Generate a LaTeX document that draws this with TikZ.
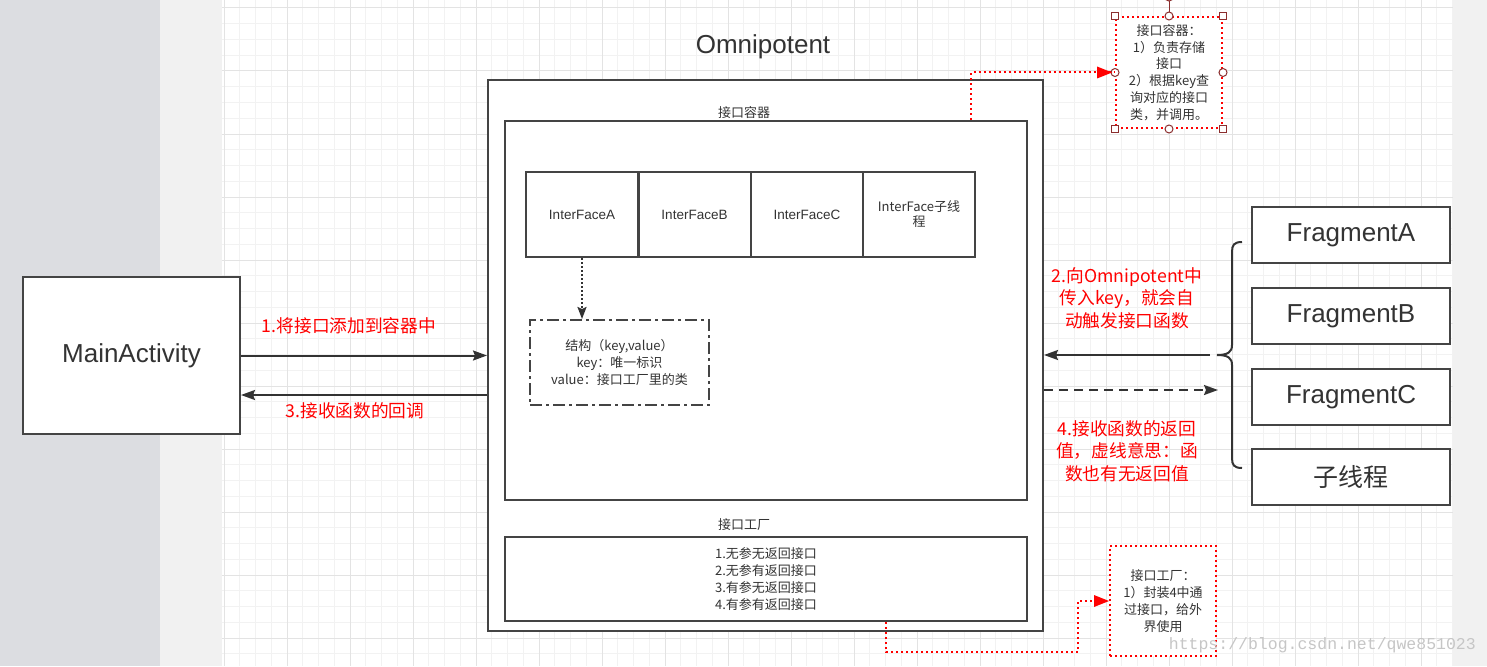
\documentclass[tikz,border=0pt]{standalone}
\usepackage{fontspec}
\setmainfont{Noto Sans CJK SC}
\newfontfamily\lat{Liberation Sans}
\newfontfamily\wmfont{Liberation Mono}
\usetikzlibrary{arrows.meta}
\definecolor{boxc}{HTML}{444444}
\definecolor{txtc}{HTML}{333333}
\definecolor{redc}{HTML}{FF0000}
\definecolor{handc}{HTML}{8B2E2E}
\definecolor{leftbg}{HTML}{DCDDE1}
\definecolor{sidebg}{HTML}{F1F1F1}
\definecolor{gminor}{HTML}{F2F2F2}
\definecolor{gmajor}{HTML}{E3E3E3}
\tikzset{
  box/.style={draw=boxc, line width=2pt, fill=white, inner sep=0pt, text=txtc, align=center},
  arr/.style={draw=txtc, line width=2pt, -{Stealth[length=14pt,width=10pt,inset=2pt]}},
  reddot/.style={draw=redc, line width=2pt, dash pattern=on 2pt off 3pt},
  redtip/.style={-{Triangle[length=15pt,width=12pt,fill=redc]}},
  redlbl/.style={text=redc, font=\fontsize{17.7}{22.5}\selectfont, align=center, inner sep=0pt},
  small/.style={font=\fontsize{13}{16.8}\selectfont},
  big/.style={font=\lat\fontsize{26}{28}\selectfont},
  notebox/.style={draw=redc, line width=2pt, dash pattern=on 2pt off 3pt, fill=white, inner sep=0pt, text=txtc, align=center, font=\fontsize{13}{16.8}\selectfont},
  sqh/.style={draw=handc, fill=white, line width=1pt, minimum size=7pt, inner sep=0pt},
  cih/.style={draw=handc, fill=white, line width=1pt, circle, minimum size=8pt, inner sep=0pt},
}
\begin{document}
\begin{tikzpicture}[x=1pt,y=-1pt]
\useasboundingbox (0,0) rectangle (1487,666);
% backgrounds
\fill[leftbg] (0,0) rectangle (160,666);
\fill[sidebg] (160,0) rectangle (222,666);
\fill[white] (222,0) rectangle (1453,666);
\fill[sidebg] (1453,0) rectangle (1487,666);
% grid
\foreach \xx in {224,239.75,...,1453} \draw[gminor, line width=1pt] (\xx,0) -- (\xx,666);
\foreach \yy in {8,23.75,...,666} \draw[gminor, line width=1pt] (222,\yy) -- (1453,\yy);
\foreach \xx in {224,287,...,1453} \draw[gmajor, line width=1pt] (\xx,0) -- (\xx,666);
\foreach \yy in {8,71,...,666} \draw[gmajor, line width=1pt] (222,\yy) -- (1453,\yy);

% main activity
\node[box, minimum width=217pt, minimum height=157pt, big] (main) at (131.5,355.5) {MainActivity};
% omnipotent
\node[box, minimum width=555pt, minimum height=551pt] (omni) at (765.5,355.5) {};
\node[text=txtc, big] (title) at (763,47) {Omnipotent};
\node[text=txtc, small] (contlbl) at (744,113) {接口容器};
\node[box, minimum width=522pt, minimum height=379pt] (cont) at (766,310.5) {};
% interfaces
\node[box, minimum width=112pt, minimum height=85pt, font=\lat\fontsize{13.5}{15}\selectfont] (ifa) at (582,214.5) {InterFaceA};
\node[box, minimum width=112pt, minimum height=85pt, font=\lat\fontsize{13.5}{15}\selectfont] (ifb) at (694.5,214.5) {InterFaceB};
\node[box, minimum width=112pt, minimum height=85pt, font=\lat\fontsize{13.5}{15}\selectfont] (ifc) at (807,214.5) {InterFaceC};
\node[box, minimum width=112pt, minimum height=85pt, font=\fontsize{13}{15}\selectfont] (ifd) at (919,214.5) {InterFace子线\\程};
% structure box
\node[box, minimum width=179pt, minimum height=85pt, dash pattern=on 12pt off 4pt on 3pt off 4pt, small] (struct) at (619.5,362.5) {结构（key,value）\\key：唯一标识\\value：接口工厂里的类};
\draw[txtc, line width=2pt, dash pattern=on 2pt off 2pt, -{Stealth[length=12pt,width=9pt,inset=2pt]}] (ifa.south) -- (struct.north -| ifa.south);
% factory
\node[text=txtc, small] (factlbl) at (744,525) {接口工厂};
\node[box, minimum width=522pt, minimum height=84pt, small] (fact) at (766,579) {1.无参无返回接口\\2.无参有返回接口\\3.有参无返回接口\\4.有参有返回接口};

% fragments
\node[box, minimum width=198pt, minimum height=56pt, big] (fa) at (1351,235) {FragmentA};
\node[box, minimum width=198pt, minimum height=56pt, big] (fb) at (1351,316) {FragmentB};
\node[box, minimum width=198pt, minimum height=56pt, big] (fc) at (1351,397) {FragmentC};
\node[box, minimum width=198pt, minimum height=56pt, font=\fontsize{25}{28}\selectfont] (fd) at (1351,477) {子线程};

% brace
\coordinate (btip) at (1217,355);
\draw[txtc, line width=2pt] (1242,242) .. controls (1234,242) and (1232,245) .. (1232,252) -- (1232,345) .. controls (1232,352) and (1228,355) .. (btip) .. controls (1228,355) and (1232,358) .. (1232,365) -- (1232,458) .. controls (1232,465) and (1234,468) .. (1242,468);

% arrows left
\draw[arr] (main.east) -- (omni.west);
\draw[arr] (omni.west |- 0,395) -- (main.east |- 0,395);
\node[redlbl] (l1) at (349,326) {1.将接口添加到容器中};
\node[redlbl] (l3) at (355,411) {3.接收函数的回调};

% arrows right
\coordinate (b2) at (1210,355);
\coordinate (b4) at (1218,390);
\draw[arr] (b2) -- (omni.east |- b2);
\draw[arr, dash pattern=on 9pt off 6pt] (omni.east |- b4) -- (b4);
\node[redlbl] (l2) at (1127,298) {2.向Omnipotent中\\传入key，就会自\\动触发接口函数};
\node[redlbl] (l4) at (1127,451) {4.接收函数的返回\\值，虚线意思：函\\数也有无返回值};

% note 1
\node[notebox, minimum width=106pt, minimum height=111pt] (n1) at (1169,72.5) {接口容器：\\1）负责存储\\接口\\2）根据key查\\询对应的接口\\类，并调用。};
\draw[handc, line width=1pt] (n1.north) -- (1169,-2);
\foreach \a in {north west,north east,south west,south east} \node[sqh] at (n1.\a) {};
\foreach \a in {north,south,east,west} \node[cih] at (n1.\a) {};
\node[cih] at (1169,-3) {};
\draw[reddot] (cont.north -| 971,0) |- (n1.west);
\draw[redc, line width=0pt, redtip] ([xshift=-14pt]n1.west) -- ([xshift=-3pt]n1.west);

% note 2
\node[notebox, minimum width=106pt, minimum height=110pt] (n2) at (1163,601) {接口工厂：\\1）封装4中通\\过接口，给外\\界使用};
\coordinate (k) at (1078,652);
\draw[reddot] (fact.south -| 886,0) |- (k) |- (n2.west);
\draw[redc, line width=0pt, redtip] ([xshift=-14pt]n2.west) -- (n2.west);

% watermark
\node[text=gray!45, font=\wmfont\fontsize{16.5}{18}\selectfont, anchor=east, inner sep=0pt] (wm) at (1476,645) {https://blog.csdn.net/qwe851023};
\end{tikzpicture}
\end{document}
